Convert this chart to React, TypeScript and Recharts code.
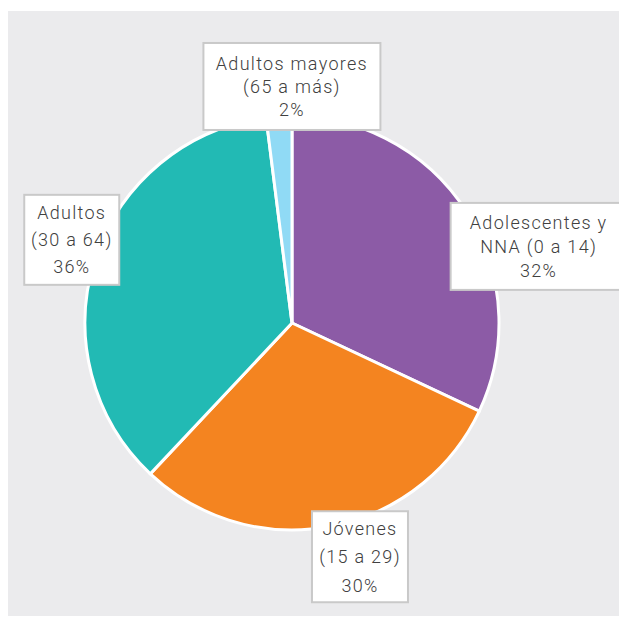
import { PieChart, Pie, Cell } from 'recharts';

const groups = ['Adolescentes y', 'Jóvenes', 'Adultos', 'Adultos mayores'];
const subLabels = ['NNA (0 a 14)', '(15 a 29)', '(30 a 64)', '(65 a más)'];
const shares = [32, 30, 36, 2];

const colors = ['#8c5ba6', '#f48420', '#22bab4', '#90daf5'];

// box sizes + nudges from the radial anchor point
const boxes = [
  { w: 176, h: 87, dx: 44, dy: 52, lh: 24 },
  { w: 96, h: 91, dx: 23, dy: -2, lh: 28.5 },
  { w: 95, h: 90, dx: 8, dy: -9, lh: 27 },
  { w: 177, h: 87, dx: 15, dy: 3, lh: 23 },
];

const data = groups.map((g, i) => ({ name: g, sub: subLabels[i], value: shares[i] }));

const RAD = Math.PI / 180;

function BoxLabel(props: any) {
  const { cx, cy, midAngle, index, payload } = props;
  const b = boxes[index];
  const r = 240;
  const x = cx + r * Math.cos(-midAngle * RAD) + b.dx;
  const y = cy + r * Math.sin(-midAngle * RAD) + b.dy;
  const lines = [payload.name, payload.sub, `${payload.value}%`];
  return (
    <g>
      <rect x={x - b.w / 2} y={y - b.h / 2} width={b.w} height={b.h} fill="#fff" stroke="#c9c9c9" strokeWidth={2} />
      {lines.map((t, k) => (
        <text
          key={k}
          x={x}
          y={y + (k - 1) * b.lh}
          textAnchor="middle"
          dominantBaseline="central"
          fill="#404040"
          fontSize={18}
          fontWeight={300}
          letterSpacing={1.3}
          fontFamily="Roboto, sans-serif"
        >
          {t}
        </text>
      ))}
    </g>
  );
}

export default function App() {
  return (
    <div style={{ paddingTop: 3 }}>
      <PieChart width={619} height={605} style={{ background: '#ebebed' }}>
        <Pie
          data={data}
          dataKey="value"
          cx={279}
          cy={307}
          outerRadius={207}
          startAngle={90}
          endAngle={-270}
          stroke="#ffffff"
          strokeWidth={3}
          label={BoxLabel}
          labelLine={false}
          isAnimationActive={false}
        >
          {data.map((d, i) => (
            <Cell key={d.name} fill={colors[i]} />
          ))}
        </Pie>
      </PieChart>
    </div>
  );
}
